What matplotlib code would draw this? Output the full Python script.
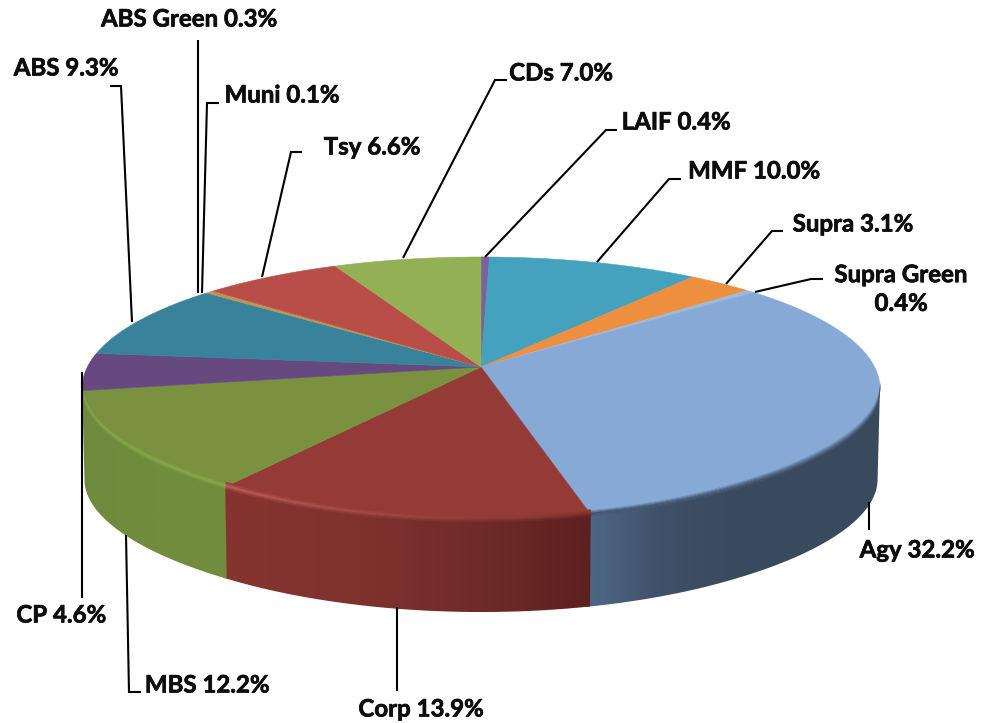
import matplotlib
matplotlib.use("Agg")
import matplotlib.pyplot as plt
from matplotlib.collections import PolyCollection
from matplotlib.colors import LinearSegmentedColormap, to_rgb
from matplotlib.patches import Polygon
import matplotlib.patheffects as pe
import numpy as np

# empieza arriba y va en sentido horario
nombres = ["LAIF", "MMF", "Supra", "Supra Green", "Agy", "Corp", "MBS", "CP", "ABS", "ABS Green", "Muni", "Tsy", "CDs"]
valores = [0.4, 10.0, 3.1, 0.4, 32.2, 13.9, 12.2, 4.6, 9.3, 0.3, 0.1, 6.6, 7.0]
colores = ["#7c61a0", "#44a2bf", "#ed8f3e", "#9db9dc", "#86a9d6", "#953b37", "#7a9140",
           "#66497f", "#38829c", "#b8965a", "#d08a4a", "#b94e49", "#94b054"]

# degradado de la pared lateral, de izquierda a derecha
pared = {"Agy": ["#4f6888", "#3f5168", "#3a4a5e", "#3a4a5e", "#3a4a5e"],
         "Corp": ["#86342f", "#82332f", "#7a302c", "#6c2a27", "#5c201e"],
         "MBS": ["#6f8a3c", "#718c3d", "#728c3e"]}
# borde biselado, al inicio y al final de la tajada
bisel = {"Agy": ["#6d88ab", "#3f5268"], "Corp": ["#7c2f2c", "#c25f5a"], "MBS": ["#88aa4c", "#88aa4c"]}

cx, cy = 481, 367
A, B, k = 393.6, 128, 0.1635
alto = 92


def proyectar(theta, r=1.0, bajada=0.0):
    u = r * np.sin(theta)
    v = r * np.cos(theta)
    d = 1 + k * v
    kx = k - 0.04 * np.clip((-v - 0.16) / 0.65, 0, 1)
    esc = 1 - 0.006 * bajada / alto
    return cx + esc * A * u / (1 + kx * v), cy - B * v / d + bajada


def mezclar(c1, c2, t):
    a = np.array(to_rgb(c1))
    b = np.array(to_rgb(c2))
    return tuple(a + (b - a) * t)


def rango_visible(i, nombre):
    ini = acum[i]
    fin = acum[i + 1]
    if nombre == "Agy":
        ini = max(ini, np.arccos(-k))
    if nombre == "MBS":
        fin = min(fin, 2 * np.pi - np.arccos(-k))
    return ini, fin


fig = plt.figure(figsize=(9.92, 7.23), dpi=100)
ax = fig.add_axes([0, 0, 1, 1])

acum = np.concatenate([[0], np.cumsum(valores)]) / sum(valores) * 2 * np.pi

# pared lateral de las tajadas de adelante
for i, nombre in enumerate(nombres):
    if nombre not in pared:
        continue
    ini, fin = rango_visible(i, nombre)
    # la siguiente tajada tapa este pequeño extra, asi no queda una costura blanca
    if nombre != "MBS":
        fin = fin + 0.01
    th = np.linspace(ini, fin, 150)
    x1, y1 = proyectar(th)
    x2, y2 = proyectar(th, 1, alto)
    contorno = np.c_[np.r_[x1, x2[::-1]], np.r_[y1, y2[::-1]]]
    cmap = LinearSegmentedColormap.from_list(nombre, pared[nombre])
    img = ax.imshow(np.linspace(0, 1, 256).reshape(1, -1), cmap=cmap, aspect="auto", zorder=2,
                    extent=[contorno[:, 0].min(), contorno[:, 0].max(), contorno[:, 1].max(), contorno[:, 1].min()])
    img.set_clip_path(Polygon(contorno, transform=ax.transData))

# cara superior
for i, nombre in enumerate(nombres):
    th = np.linspace(acum[i], acum[i + 1], 80)
    x, y = proyectar(th)
    ax.fill(np.r_[cx, x], np.r_[cy, y], facecolor=colores[i], edgecolor=colores[i], linewidth=0.4, zorder=3)

# bisel: de la cara superior al borde y del borde a la pared
for i, nombre in enumerate(nombres):
    if nombre not in bisel:
        continue
    ini, fin = rango_visible(i, nombre)
    th = np.linspace(ini, fin, 100)
    cmap = LinearSegmentedColormap.from_list(nombre, pared[nombre])
    xs = proyectar(th)[0]
    pasos = np.linspace(0, 1, 7)
    for j in range(len(pasos) - 1):
        p = pasos[j]
        quads = []
        cols = []
        for m in range(len(th) - 1):
            x1, y1 = proyectar(th[m], 1, -5 + p * 7)
            x2, y2 = proyectar(th[m + 1], 1, -5 + p * 7)
            x3, y3 = proyectar(th[m + 1], 1, -5 + pasos[j + 1] * 7)
            x4, y4 = proyectar(th[m], 1, -5 + pasos[j + 1] * 7)
            quads.append([(x1, y1), (x2, y2), (x3, y3), (x4, y4)])
            t = m / (len(th) - 2)
            borde = mezclar(bisel[nombre][0], bisel[nombre][1], t)
            fx = (xs[m] - xs.min()) / (xs.max() - xs.min())
            if p < 0.5:
                cols.append(mezclar(colores[i], borde, p * 2))
            else:
                cols.append(mezclar(borde, cmap(fx)[:3], (p - 0.5) * 2))
        ax.add_collection(PolyCollection(quads, facecolors=cols, edgecolors=cols, linewidths=0.3, zorder=4))

# lineas guia
guias = [
    ([198, 198], [40, 293]),
    ([110, 121, 132], [86, 86, 322]),
    ([219, 207, 202], [103, 103, 293]),
    ([302, 291, 262], [152, 152, 277]),
    ([507, 495, 403], [80, 80, 258]),
    ([617, 606, 485], [130, 130, 257]),
    ([681, 669, 597], [179, 179, 262]),
    ([783, 772, 726], [231, 231, 284]),
    ([823, 811, 755], [279, 279, 292]),
    ([869, 869], [502, 530]),
    ([397, 397], [607, 691]),
    ([126, 129, 141], [535, 692, 692]),
    ([82, 82], [372, 598]),
]
for gx, gy in guias:
    ax.plot(gx, gy, color="black", linewidth=1.5, zorder=5, solid_capstyle="butt", solid_joinstyle="miter")

etiquetas = [
    ("ABS Green 0.3%", 189, 19),
    ("ABS 9.3%", 66, 68),
    ("Muni 0.1%", 282, 95),
    ("Tsy 6.6%", 372, 147),
    ("CDs 7.0%", 561, 73),
    ("LAIF 0.4%", 676, 122),
    ("MMF 10.0%", 754, 171),
    ("Supra 3.1%", 853, 224),
    ("Supra Green\n0.4%", 901, 289),
    ("Agy 32.2%", 917, 550),
    ("Corp 13.9%", 421, 709),
    ("MBS 12.2%", 207, 685),
    ("CP 4.6%", 61, 615),
]
for texto, tx, ty in etiquetas:
    t = ax.text(tx, ty, texto, family="Lato", fontweight="bold", fontsize=17.3, color="#0d0d0d",
                ha="center", va="center", linespacing=1.3, zorder=6)
    t.set_path_effects([pe.withStroke(linewidth=0.5, foreground="#0d0d0d")])

ax.set_xlim(0, 992)
ax.set_ylim(723, 0)
ax.axis("off")

fig.savefig("out.png", dpi=100)
